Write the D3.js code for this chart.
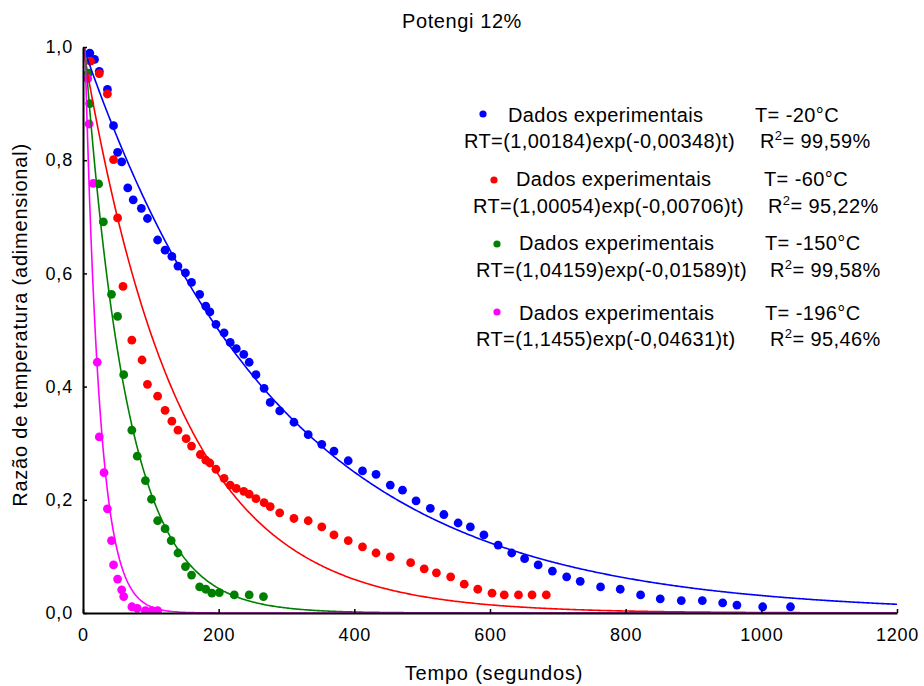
<!DOCTYPE html>
<html>
<head>
<meta charset="utf-8">
<script src="https://cdn.jsdelivr.net/npm/d3@7"></script>
<style>
  body { margin: 0; background: #fff; }
  svg { display: block; font-family: "Liberation Sans", Arial, Helvetica, sans-serif; }
</style>
</head>
<body>
<svg id="chart" width="924" height="686"></svg>
<script>
// ---- data ----
const blueT = [10,17,24,36,45,51,57,66,74,86,95,110,121,131,140,151,160,172,181,187,196,208,217,226,237,245,255,267,276,290,311,332,352,370,391,412,432,453,471,491,512,532,553,571,591,612,632,651,671,692,713,733,763,792,822,851,882,913,943,964,1002,1043];
const blueV = [0.989,0.978,0.957,0.925,0.861,0.814,0.797,0.751,0.730,0.715,0.697,0.659,0.641,0.630,0.613,0.601,0.584,0.563,0.542,0.532,0.510,0.495,0.478,0.467,0.457,0.443,0.421,0.397,0.372,0.357,0.337,0.315,0.298,0.286,0.269,0.251,0.245,0.226,0.217,0.198,0.185,0.174,0.159,0.152,0.138,0.120,0.106,0.096,0.085,0.074,0.064,0.056,0.046,0.042,0.032,0.025,0.022,0.022,0.018,0.014,0.011,0.011];

const redT = [11,24,36,45,51,59,72,87,95,110,121,131,140,152,160,173,181,187,196,208,217,226,237,245,255,267,276,290,311,332,352,370,391,412,432,453,483,503,521,542,562,582,603,621,642,662,683];
const redV = [0.975,0.953,0.917,0.801,0.698,0.577,0.482,0.447,0.404,0.383,0.358,0.339,0.323,0.308,0.295,0.280,0.270,0.265,0.254,0.238,0.226,0.220,0.215,0.210,0.202,0.195,0.188,0.177,0.167,0.163,0.152,0.138,0.128,0.117,0.106,0.099,0.089,0.078,0.071,0.064,0.051,0.042,0.035,0.032,0.032,0.032,0.032];

const greenT = [8,10,23,30,42,51,60,72,80,92,101,110,121,130,140,151,160,172,181,190,201,223,245,266];
const greenV = [0.954,0.900,0.758,0.691,0.563,0.524,0.421,0.323,0.277,0.234,0.201,0.163,0.149,0.128,0.106,0.082,0.067,0.046,0.042,0.035,0.036,0.032,0.032,0.029];

const magT = [7,9,15,21,24,31,36,42,45,51,57,60,72,80,92,102,110];
const magV = [0.944,0.864,0.759,0.443,0.311,0.248,0.184,0.128,0.085,0.060,0.041,0.029,0.011,0.008,0.004,0.004,0.004];

// fitted models as printed in the legend: RT = A * exp(-k t)
const fitA = [1.00184, 1.00054, 1.04159, 1.1455];
const fitK = [0.00348, 0.00706, 0.01589, 0.04631];

const seriesColors = ["#0000ff", "#ff0000", "#008000", "#ff00ff"];
const legendTemps = ["T= -20°C", "T= -60°C", "T= -150°C", "T= -196°C"];
const legendEqs = ["RT=(1,00184)exp(-0,00348)t)", "RT=(1,00054)exp(-0,00706)t)", "RT=(1,04159)exp(-0,01589)t)", "RT=(1,1455)exp(-0,04631)t)"];
const legendR2 = ["= 99,59%", "= 95,22%", "= 99,58%", "= 95,46%"];

const xTicks = [0, 200, 400, 600, 800, 1000, 1200];
const yTicks = [0, 0.2, 0.4, 0.6, 0.8, 1.0];
const yTickLabels = ["0,0", "0,2", "0,4", "0,6", "0,8", "1,0"];

// ---- layout ----
const W = 924, H = 686;
const m = { left: 83, right: 27, top: 47, bottom: 73 };
const svg = d3.select("#chart");

const x = d3.scaleLinear().domain([0, 1200]).range([m.left, W - m.right]);
const y = d3.scaleLinear().domain([0, 1]).range([H - m.bottom, m.top]);

svg.append("defs").append("clipPath").attr("id", "plotclip")
  .append("rect").attr("x", m.left).attr("y", m.top)
  .attr("width", W - m.left - m.right).attr("height", H - m.top - m.bottom);

const scatter = [
  { t: blueT, v: blueV },
  { t: redT, v: redV },
  { t: greenT, v: greenV },
  { t: magT, v: magV }
];

const tGrid = d3.range(0, 1201, 2);
const line = d3.line().x(d => x(d[0])).y(d => y(d[1]));
const plot = svg.append("g").attr("clip-path", "url(#plotclip)");

scatter.forEach((s, i) => {
  plot.append("g").selectAll("circle")
    .data(s.t.map((t, j) => [t, s.v[j]]))
    .join("circle")
    .attr("cx", d => x(d[0])).attr("cy", d => y(d[1]))
    .attr("r", 4.4).attr("fill", seriesColors[i]);
});
scatter.forEach((s, i) => {
  plot.append("path")
    .datum(tGrid.map(t => [t, fitA[i] * Math.exp(-fitK[i] * t)]))
    .attr("d", line).attr("fill", "none")
    .attr("stroke", seriesColors[i]).attr("stroke-width", 1.6);
});

// ---- axes ----
const xAxis = d3.axisBottom(x).tickValues(xTicks).tickFormat(d3.format("d"))
  .tickSizeInner(-4).tickSizeOuter(0).tickPadding(15);
const yAxis = d3.axisLeft(y).tickValues(yTicks).tickFormat((d, i) => yTickLabels[i])
  .tickSizeInner(-4).tickSizeOuter(0).tickPadding(10);

const gx = svg.append("g").attr("transform", `translate(0,${H - m.bottom})`).call(xAxis);
const gy = svg.append("g").attr("transform", `translate(${m.left},0)`).call(yAxis);
[gx, gy].forEach(g => {
  g.select(".domain").attr("stroke", "#000").attr("stroke-width", 2);
  g.selectAll(".tick line").attr("stroke", "#000").attr("stroke-width", 1.5);
  g.selectAll(".tick text").attr("fill", "#000").style("font-size", "18px")
    .style("letter-spacing", "0.8px")
    .style("font-family", "'Liberation Sans', Arial, sans-serif");
});

// ---- titles ----
svg.append("text").attr("x", 462).attr("y", 28).attr("text-anchor", "middle")
  .style("font-size", "20px").style("letter-spacing", "0.6px").text("Potengi 12%");
svg.append("text").attr("x", 494).attr("y", 680).attr("text-anchor", "middle")
  .style("font-size", "20px").style("letter-spacing", "0.8px").text("Tempo (segundos)");
svg.append("text").attr("transform", "translate(27,325) rotate(-90)").attr("text-anchor", "middle")
  .style("font-size", "20px").style("letter-spacing", "0.8px").text("Razão de temperatura (adimensional)");

// ---- legend ----
const legRows = [
  { dotX: 483, dotY: 114, nameX: 508, nameY: 122, tX: 755, eqX: 464, eqY: 148, rX: 760 },
  { dotX: 494, dotY: 180, nameX: 516, nameY: 186, tX: 764, eqX: 473, eqY: 213, rX: 768 },
  { dotX: 497, dotY: 244, nameX: 519, nameY: 250, tX: 765, eqX: 476, eqY: 277, rX: 770 },
  { dotX: 497, dotY: 312, nameX: 519, nameY: 320, tX: 765, eqX: 476, eqY: 346, rX: 770 }
];
const leg = svg.append("g").style("font-size", "20px").style("letter-spacing", "0.4px").attr("fill", "#000");
legRows.forEach((r, i) => {
  leg.append("circle").attr("cx", r.dotX).attr("cy", r.dotY).attr("r", 3.6).attr("fill", seriesColors[i]);
  leg.append("text").attr("x", r.nameX).attr("y", r.nameY).text("Dados experimentais");
  leg.append("text").attr("x", r.tX).attr("y", r.nameY).text(legendTemps[i]);
  leg.append("text").attr("x", r.eqX).attr("y", r.eqY).text(legendEqs[i]);
  const rt = leg.append("text").attr("x", r.rX).attr("y", r.eqY);
  rt.append("tspan").text("R");
  rt.append("tspan").attr("dy", -8).style("font-size", "13px").text("2");
  rt.append("tspan").attr("dy", 8).text(legendR2[i]);
});
</script>
</body>
</html>
